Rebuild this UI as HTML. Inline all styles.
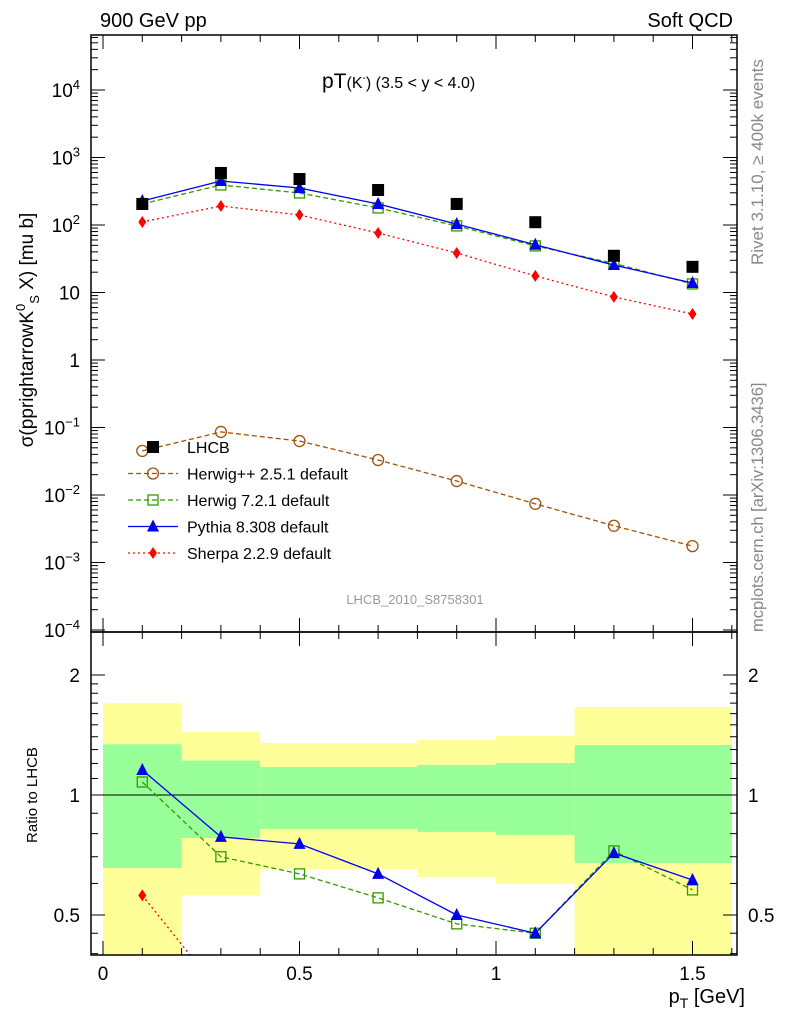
<!DOCTYPE html>
<html><head><meta charset="utf-8"><style>
body{margin:0;background:#fff;}
svg text{font-family:"Liberation Sans",sans-serif;}
</style></head><body>
<svg id="c" width="786" height="1024" xmlns="http://www.w3.org/2000/svg">
<text x="100" y="27" font-size="20">900 GeV pp</text>
<text x="733" y="27" font-size="20" text-anchor="end">Soft QCD</text>
<text transform="translate(763,265) rotate(-90)" font-size="17" fill="#888">Rivet 3.1.10, ≥ 400k events</text>
<text transform="translate(763,632) rotate(-90)" font-size="16.5" fill="#888">mcplots.cern.ch [arXiv:1306.3436]</text>
<text x="322" y="88" font-size="21">pT<tspan font-size="16">(K</tspan><tspan font-size="10" dy="-7">-</tspan><tspan font-size="16" dy="7">)</tspan><tspan font-size="16"> (3.5 &lt; y &lt; 4.0)</tspan></text>
<text x="415" y="604" font-size="13" fill="#999" text-anchor="middle">LHCB_2010_S8758301</text>
<text transform="translate(33,330) rotate(-90)" font-size="19" text-anchor="middle">σ(pprightarrowK<tspan font-size="13" dy="-8">0</tspan><tspan font-size="13" dy="14">S</tspan><tspan dy="-6"> X) [mu b]</tspan></text>
<text transform="translate(37,795) rotate(-90)" font-size="15" text-anchor="middle">Ratio to LHCB</text>
<text x="745" y="1003" font-size="20" text-anchor="end">p<tspan font-size="14" dy="5">T</tspan><tspan dy="-5"> [GeV]</tspan></text>
<g id="bands"></g><g id="main"></g><g id="ratio"></g><g id="axes"></g><g id="legend"></g>
</svg>
<script>
const xVals=[0.1,0.3,0.5,0.7,0.9,1.1,1.3,1.5];
const lhcb=[205,590,480,330,205,110,35,24];
const herwigpp=[0.045,0.086,0.063,0.033,0.0161,0.0074,0.0035,0.00175];
const herwig7=[205,392,298,179,97,49,27,13.4];
const pythia=[227,449,353,205,103,51,25.5,13.8];
const sherpa=[111,191,141,76,38.5,17.6,8.6,4.8];
const herwig7Ratio=[1.078,0.70,0.634,0.552,0.475,0.45,0.724,0.578];
const pythiaRatio=[1.155,0.785,0.754,0.634,0.5,0.45,0.715,0.612];
const sherpaRatio=[0.56,0.3];
const binEdges=[0,0.2,0.4,0.8,1.0,1.2,1.6];
const yellowHi=[1.70,1.44,1.35,1.374,1.406,1.662];
const yellowLo=[0.3,0.56,0.652,0.623,0.598,0.3];
const greenHi=[1.34,1.22,1.175,1.19,1.203,1.335];
const greenLo=[0.656,0.78,0.822,0.808,0.794,0.675];
const NS="http://www.w3.org/2000/svg";
const L=91,R=737,MT=35,MB=632,RB=955;
const X=v=>103+393*v;
const Y=v=>360-67.5*Math.log10(v);
const YR=v=>795-120*Math.log2(v);
function mk(p,t,a){const e=document.createElementNS(NS,t);for(const k in a)e.setAttribute(k,a[k]);p.appendChild(e);return e;}
const bands=document.getElementById('bands'),main=document.getElementById('main'),ratio=document.getElementById('ratio'),axes=document.getElementById('axes'),leg=document.getElementById('legend');
const clipR=mk(document.getElementById('c'),'clipPath',{id:'cr'});mk(clipR,'rect',{x:L,y:MB,width:R-L,height:RB-MB});
const clipM=mk(document.getElementById('c'),'clipPath',{id:'cm'});mk(clipM,'rect',{x:L,y:MT,width:R-L,height:MB-MT});
ratio.setAttribute('clip-path','url(#cr)');bands.setAttribute('clip-path','url(#cr)');main.setAttribute('clip-path','url(#cm)');
for(let i=0;i<6;i++){
 let y=mk(bands,'rect',{x:X(binEdges[i]),width:X(binEdges[i+1])-X(binEdges[i]),y:YR(yellowHi[i]),height:YR(yellowLo[i])-YR(yellowHi[i]),fill:'#ffff99'});
 
 
 let g=mk(bands,'rect',{x:X(binEdges[i]),width:X(binEdges[i+1])-X(binEdges[i]),y:YR(greenHi[i]),height:YR(greenLo[i])-YR(greenHi[i]),fill:'#99ff99'});
 
 
}
mk(ratio,'line',{x1:L,x2:R,y1:YR(1),y2:YR(1),stroke:'#000','stroke-width':1});
function marker(p,t,x,y,c){
 if(t=='sq')return mk(p,'rect',{x:x-6,y:y-6,width:12,height:12,fill:'#000'});
 if(t=='osq')return mk(p,'rect',{x:x-5,y:y-5,width:10,height:10,fill:'none',stroke:c,'stroke-width':1.3});
 if(t=='oc')return mk(p,'circle',{cx:x,cy:y,r:5.5,fill:'none',stroke:c,'stroke-width':1.3});
 if(t=='tri')return mk(p,'polygon',{points:`${x},${y-7} ${x-6},${y+5} ${x+6},${y+5}`,fill:c});
 if(t=='dia')return mk(p,'polygon',{points:`${x},${y-6} ${x-4},${y} ${x},${y+6} ${x+4},${y}`,fill:c});
}
function series(p,xs,vals,yf,c,dash,m,name){
 if(dash!==null){const l=mk(p,'polyline',{points:vals.map((v,i)=>X(xs[i])+','+yf(v)).join(' '),fill:'none',stroke:c,'stroke-width':1.3,'stroke-dasharray':dash});
 
 }
 vals.forEach((v,i)=>{const e=marker(p,m,X(xs[i]),yf(v),c);
 
 });
}
series(main,xVals,herwigpp,Y,'#a0520a','5,3','oc','herwigpp');
series(main,xVals,sherpa,Y,'#ff0000','2,3','dia','sherpa');
series(main,xVals,herwig7,Y,'#339900','5,3','osq','herwig7');
series(main,xVals,pythia,Y,'#0000ee','','tri','pythia');
series(main,xVals,lhcb,Y,'#000',null,'sq','lhcb');
series(ratio,[0.1,0.32],sherpaRatio,YR,'#ff0000','2,3','dia','sherpa-ratio');
series(ratio,xVals,herwig7Ratio,YR,'#339900','5,3','osq','herwig7-ratio');
series(ratio,xVals,pythiaRatio,YR,'#0000ee','','tri','pythia-ratio');
[[MT,MB],[MB,RB]].forEach(([a,b])=>{const f=mk(axes,'rect',{x:L,y:a,width:R-L,height:b-a,fill:'none',stroke:'#000','stroke-width':1.5});
 
 });
const decades=[-4,-3,-2,-1,0,1,2,3,4];
const decLabels=['10<tspan dy="-8" font-size="13">−4</tspan>','10<tspan dy="-8" font-size="13">−3</tspan>','10<tspan dy="-8" font-size="13">−2</tspan>','10<tspan dy="-8" font-size="13">−1</tspan>','1','10','10<tspan dy="-8" font-size="13">2</tspan>','10<tspan dy="-8" font-size="13">3</tspan>','10<tspan dy="-8" font-size="13">4</tspan>'];
decades.forEach((d,i)=>{
 const y=Y(Math.pow(10,d));
 mk(axes,'line',{x1:L,x2:L+14,y1:y,y2:y,stroke:'#000'});mk(axes,'line',{x1:R,x2:R-14,y1:y,y2:y,stroke:'#000'});
 const t=mk(axes,'text',{x:80,y:y+7,'font-size':19,'text-anchor':'end'});t.innerHTML=decLabels[i];
 
 
 for(let k=2;k<10;k++){const yy=Y(k*Math.pow(10,d));if(yy<MT)continue;
  mk(axes,'line',{x1:L,x2:L+7,y1:yy,y2:yy,stroke:'#000'});mk(axes,'line',{x1:R,x2:R-7,y1:yy,y2:yy,stroke:'#000'});}
});
const rTicks=[2,1,0.5];const rLabels=['2','1','0.5'];
rTicks.forEach((v,i)=>{const y=YR(v);
 mk(axes,'line',{x1:L,x2:L+14,y1:y,y2:y,stroke:'#000'});mk(axes,'line',{x1:R,x2:R-14,y1:y,y2:y,stroke:'#000'});
 const t=mk(axes,'text',{x:80,y:y+7,'font-size':19,'text-anchor':'end'});t.textContent=rLabels[i];
 
 
 const t2=mk(axes,'text',{x:748,y:y+7,'font-size':19});t2.textContent=rLabels[i];
 
 
});
[0.6,0.7,0.8,0.9,1.1,1.2,1.3,1.4,1.5,1.6,1.7,1.8,1.9,0.45,0.4].forEach(v=>{const y=YR(v);
 mk(axes,'line',{x1:L,x2:L+7,y1:y,y2:y,stroke:'#000'});mk(axes,'line',{x1:R,x2:R-7,y1:y,y2:y,stroke:'#000'});});
const xTicks=[0,0.5,1,1.5];const xLabels=['0','0.5','1','1.5'];
for(let v=0;v<=1.6001;v+=0.1){const x=X(v);const major=Math.abs(v*2-Math.round(v*2))<1e-6;const h=major?14:7;
 [[MT,1],[MB,1],[MB,-1],[RB,-1]].forEach(([y,s])=>mk(axes,'line',{x1:x,x2:x,y1:y,y2:y+s*h,stroke:'#000'}));}
xTicks.forEach((v,i)=>{const t=mk(axes,'text',{x:X(v),y:980,'font-size':19,'text-anchor':'middle'});t.textContent=xLabels[i];
 
 });
const legNames=['LHCB','Herwig++ 2.5.1 default','Herwig 7.2.1 default','Pythia 8.308 default','Sherpa 2.2.9 default'];
const legColors=['#000','#a0520a','#339900','#0000ee','#ff0000'];
const legDash=[null,'5,3','5,3','','2,3'];const legM=['sq','oc','osq','tri','dia'];
legNames.forEach((n,i)=>{const y=447+i*26.5;
 if(legDash[i]!==null)mk(leg,'line',{x1:128,x2:178,y1:y,y2:y,stroke:legColors[i],'stroke-width':1.3,'stroke-dasharray':legDash[i]});
 marker(leg,legM[i],153,y,legColors[i]);
 const t=mk(leg,'text',{x:187,y:y+6,'font-size':16});t.textContent=n;
 
 });
</script>
</body></html>
